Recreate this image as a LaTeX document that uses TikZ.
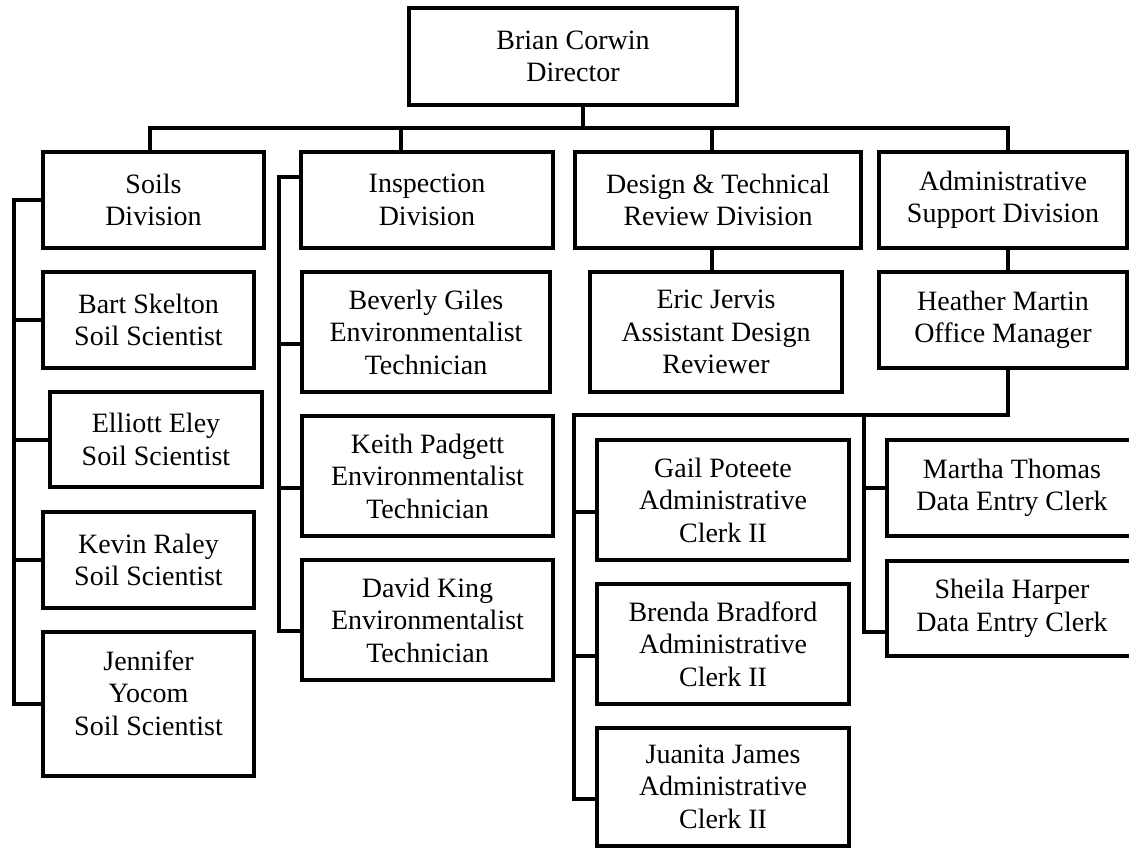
\documentclass[tikz,border=0pt]{standalone}
\usepackage{fontspec}
\setmainfont{Liberation Serif}
\tikzset{
  bx/.style={draw, line width=4pt, rectangle, inner sep=0pt, align=center,
    font=\fontsize{28}{32.5}\selectfont},
  txt/.style={inner sep=0pt, align=center, font=\fontsize{28}{32.5}\selectfont},
  ln/.style={line width=4pt, line join=miter}
}
\newcommand\orgbox[6]{%
  \pgfmathsetmacro\obw{#4-#2}\pgfmathsetmacro\obh{#5-#3}%
  \pgfmathsetmacro\obx{(#2+#4)/2}\pgfmathsetmacro\oby{(#3+#5)/2}%
  \node[bx, minimum width=\obw pt, minimum height=\obh pt] (#1) at (\obx,\oby) {#6};}
\begin{document}
\begin{tikzpicture}[x=1pt,y=-1pt]
\useasboundingbox (0,0) rectangle (1129,848);
\clip (0,0) rectangle (1129,848);
% boxes
\orgbox{dir}{409}{8}{737}{105}{Brian Corwin\\Director}
\orgbox{soils}{43}{152}{264}{248}{Soils\\Division}
\orgbox{insp}{301}{152}{553}{248}{Inspection\\Division}
\orgbox{design}{575}{152}{861}{248}{Design \& Technical\\Review Division}
\orgbox{admin}{879}{152}{1127}{248}{Administrative\\Support Division}
\orgbox{bart}{43}{272}{254}{368}{Bart Skelton\\Soil Scientist}
\orgbox{elliott}{50}{392}{262}{487}{Elliott Eley\\Soil Scientist}
\orgbox{kevin}{43}{512}{254}{608}{Kevin Raley\\Soil Scientist}
\orgbox{jen}{43}{632}{254}{776}{}
\node[txt] (jentxt) at (148.5,693) {Jennifer\\Yocom\\Soil Scientist};
\orgbox{bev}{302}{272}{550}{392}{Beverly Giles\\Environmentalist\\Technician}
\orgbox{keith}{302}{416}{553}{536}{Keith Padgett\\Environmentalist\\Technician}
\orgbox{david}{302}{560}{553}{680}{David King\\Environmentalist\\Technician}
\orgbox{eric}{590}{272}{842}{392}{Eric Jervis\\Assistant Design\\Reviewer}
\orgbox{heather}{879}{272}{1127}{368}{Heather Martin\\Office Manager}
\orgbox{gail}{597}{440}{849}{560}{Gail Poteete\\Administrative\\Clerk II}
\orgbox{brenda}{597}{584}{849}{704}{Brenda Bradford\\Administrative\\Clerk II}
\orgbox{juanita}{597}{728}{849}{845.5}{Juanita James\\Administrative\\Clerk II}
\orgbox{martha}{887}{440}{1137}{536}{Martha Thomas\\Data Entry Clerk}
\orgbox{sheila}{887}{561}{1137}{656}{Sheila Harper\\Data Entry Clerk}
% top bus
\coordinate (b0) at (583,128);
\coordinate (b1) at (150,128);
\coordinate (b2) at (401,128);
\coordinate (b3) at (712,128);
\coordinate (b4) at (1008,128);
\draw[ln] (b0 |- dir.south) -- (b0);
\draw[ln] (b1 |- soils.north) -- (b1) -- (b4) -- (b4 |- admin.north);
\draw[ln] (b2) -- (b2 |- insp.north);
\draw[ln] (b3) -- (b3 |- design.north);
% soils
\coordinate (sv) at (14,704);
\draw[ln] (soils.west) -| (sv) -- (sv -| jen.west);
\draw[ln] (sv |- bart.west) -- (bart.west);
\draw[ln] (sv |- elliott.west) -- (elliott.west);
\draw[ln] (sv |- kevin.west) -- (kevin.west);
% inspection
\coordinate (it) at (279,177);
\coordinate (ib) at (279,631);
\coordinate (ibev) at (279,344);
\coordinate (ikei) at (279,488);
\draw[ln] (it -| insp.west) -- (it) -- (ib) -- (ib -| david.west);
\draw[ln] (ibev) -- (ibev -| bev.west);
\draw[ln] (ikei) -- (ikei -| keith.west);
% design & admin
\draw[ln] (b3 |- design.south) -- (b3 |- eric.north);
\draw[ln] (b4 |- admin.south) -- (b4 |- heather.north);
% clerks
\coordinate (cb) at (1008,415);
\coordinate (cl) at (574,415);
\coordinate (clb) at (574,799);
\coordinate (cr) at (864,415);
\coordinate (crb) at (864,632);
\coordinate (cgail) at (574,512);
\coordinate (cbren) at (574,656);
\coordinate (cmar) at (864,488);
\draw[ln] (b4 |- heather.south) -- (cb) -- (cl) -- (clb) -- (clb -| juanita.west);
\draw[ln] (cr) -- (crb) -- (crb -| sheila.west);
\draw[ln] (cgail) -- (cgail -| gail.west);
\draw[ln] (cbren) -- (cbren -| brenda.west);
\draw[ln] (cmar) -- (cmar -| martha.west);
\end{tikzpicture}
\end{document}
